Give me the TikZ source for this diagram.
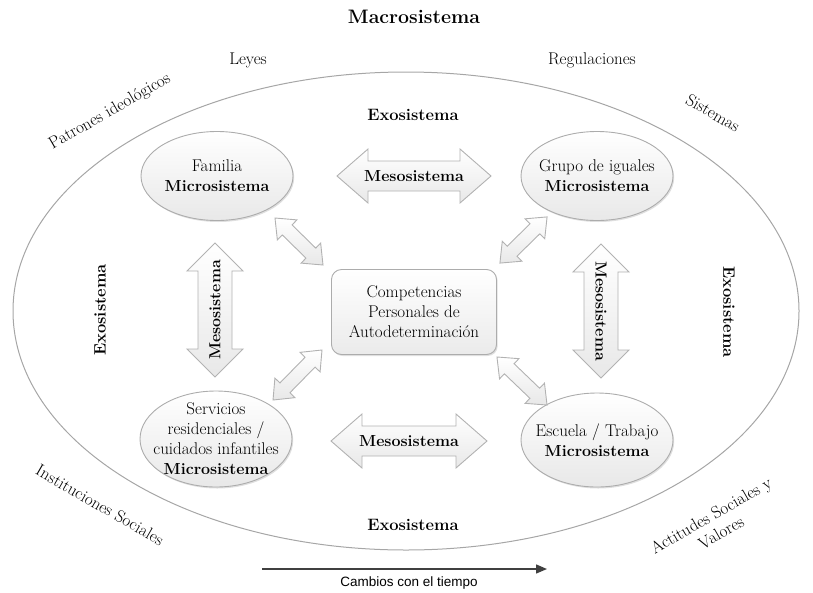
\documentclass[tikz,border=0pt]{standalone}
\usepackage{fontspec}
\newfontfamily\cambiosfont{Liberation Sans}
\usetikzlibrary{shapes.geometric,arrows.meta,shadows}
\newcommand\blockarrow[8]{%
  \begin{scope}[shift={(#1,#2)},rotate=#3]
    \coordinate (#8) at (0,0);
    \path[arrowbody] (-#4,0) -- (-#4+#7,#6) -- (-#4+#7,#5) -- (#4-#7,#5) -- (#4-#7,#6) -- (#4,0)
      -- (#4-#7,-#6) -- (#4-#7,-#5) -- (-#4+#7,-#5) -- (-#4+#7,-#6) -- cycle;
  \end{scope}}
\newcommand\microbf[1]{{\fontsize{16}{20}\selectfont\bfseries #1}}
\begin{document}
\begin{tikzpicture}[x=1pt,y=-1pt,
  every node/.style={font=\fontsize{17}{20}\selectfont, inner sep=0pt},
  micro/.style={ellipse, draw=gray!65, line width=0.9pt, top color=white, bottom color=gray!18,
    drop shadow={shadow xshift=1.2pt, shadow yshift=-1.5pt, opacity=0.25}},
  mtext/.style={align=center},
  comp/.style={rectangle, rounded corners=10pt, draw=gray!65, line width=0.9pt, top color=white, bottom color=gray!16,
    minimum width=165pt, minimum height=85pt, align=center,
    drop shadow={shadow xshift=1.2pt, shadow yshift=-1.5pt, opacity=0.25}},
  arrowbody/.style={draw=gray!60, line width=0.9pt, top color=white, bottom color=gray!18, line join=miter},
  outer/.style={font=\fontsize{17}{20}\selectfont, align=center},
  exo/.style={font=\fontsize{16.5}{20}\selectfont\bfseries},
  meso/.style={font=\fontsize{16}{20}\selectfont\bfseries},
  timeline/.style={draw=black!75, line width=1.4pt, -{Triangle[length=11pt,width=9pt]}}
]
\useasboundingbox (0,0) rectangle (813,592);

% title and outer labels
\node[font=\fontsize{19.5}{22}\selectfont\bfseries] (macro) at (414,17) {Macrosistema};
\node[outer] (leyes) at (248,60) {Leyes};
\node[outer] (regul) at (592,60) {Regulaciones};
\node[outer, rotate=30] (patr) at (110,112) {Patrones ideológicos};
\node[outer, rotate=-30] (sist) at (713,113) {Sistemas};
\node[outer, rotate=-30] (inst) at (100,505) {Instituciones Sociales};
\node[outer, rotate=30] (acti) at (716,524) {Actitudes Sociales y\\Valores};

% big ellipse
\draw[gray!70, line width=1pt] (406,311) ellipse [x radius=393, y radius=239];

% exosistema labels
\node[exo] (exot) at (413,115) {Exosistema};
\node[exo] (exob) at (413,525) {Exosistema};
\node[exo, rotate=90] (exol) at (100,310) {Exosistema};
\node[exo, rotate=-90] (exor) at (729,312) {Exosistema};

% microsystems
\node[micro, minimum width=152pt, minimum height=89pt] (fam) at (217,176) {};
\node[mtext] at (fam) {Familia\\\microbf{Microsistema}};
\node[micro, minimum width=152pt, minimum height=89pt] (grupo) at (597,176) {};
\node[mtext] at (grupo) {Grupo de iguales\\\microbf{Microsistema}};
\node[micro, minimum width=152pt, minimum height=96pt] (serv) at (216,439) {};
\node[mtext] at (serv) {Servicios\\residenciales /\\cuidados infantiles\\\microbf{Microsistema}};
\node[micro, minimum width=152pt, minimum height=94pt] (esc) at (597,440) {};
\node[mtext] at (esc) {Escuela / Trabajo\\\microbf{Microsistema}};

% center
\node[comp] (comp) at (414,312) {Competencias\\Personales de\\Autodeterminación};

% mesosystem block arrows
\blockarrow{414}{176}{0}{77}{15}{27}{31}{mtop}
\node[meso] at (mtop) {Mesosistema};
\blockarrow{409}{441}{0}{78}{15}{27}{31}{mbot}
\node[meso] at (mbot) {Mesosistema};
\blockarrow{215}{310}{90}{67}{17}{28}{28}{mleft}
\node[meso, rotate=90] at (mleft) {Mesosistema};
\blockarrow{601}{311}{90}{67}{17}{28}{28}{mright}
\node[meso, rotate=-90] at (mright) {Mesosistema};

% diagonal arrows
\blockarrow{299}{241.5}{-44.4}{33.6}{7}{14}{17}{d1}
\blockarrow{523.5}{240}{44.4}{33}{7}{14}{17}{d2}
\blockarrow{297.5}{375}{45.6}{35}{7}{14}{17}{d3}
\blockarrow{522}{381}{-43.8}{34.7}{7}{14}{17}{d4}

% time arrow
\coordinate (t0) at (262,569);
\coordinate (t1) at (547,569);
\draw[timeline] (t0) -- (t1);
\node[font=\cambiosfont\fontsize{13.5}{16}\selectfont] (cambios) at (409,583) {Cambios con el tiempo};
\end{tikzpicture}
\end{document}
